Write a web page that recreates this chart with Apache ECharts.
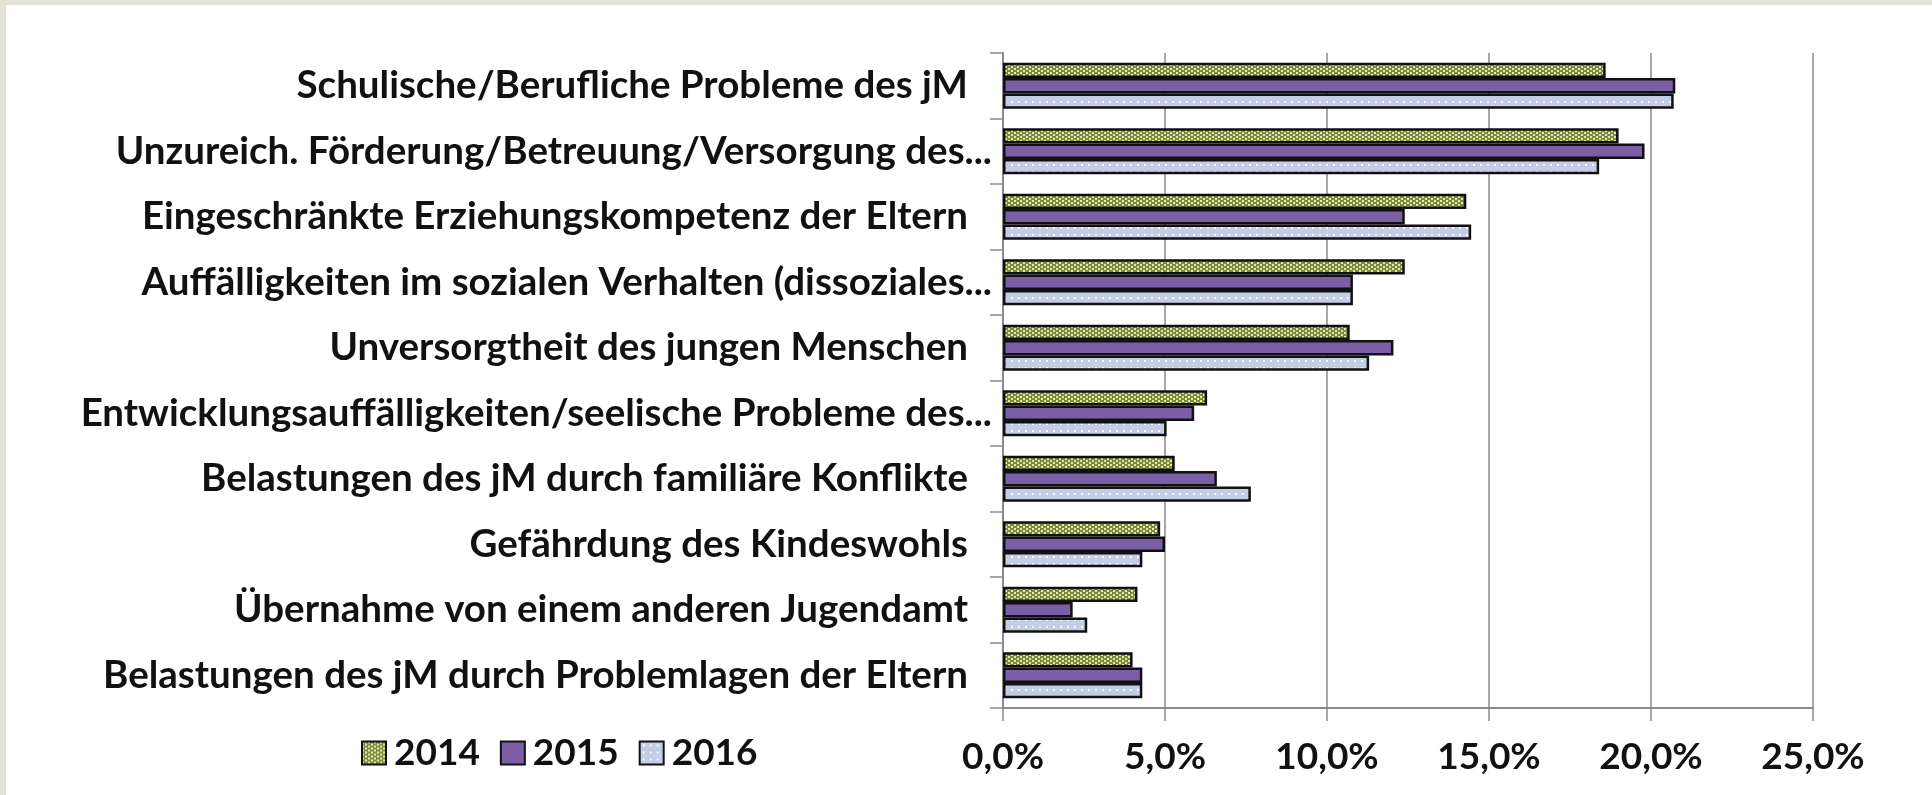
<!DOCTYPE html>
<html>
<head>
<meta charset="utf-8">
<script src="https://cdn.jsdelivr.net/npm/echarts@6/dist/echarts.min.js"></script>
<style>
  html, body { margin: 0; padding: 0; background: #ffffff; }
  #chart { position: absolute; left: 0; top: 0; width: 1932px; height: 795px; }
  .frameL { position: absolute; left: 0; top: 0; width: 6px; height: 795px; background: #e4e1d7; }
  .frameT { position: absolute; left: 0; top: 0; width: 1932px; height: 5px; background: #e4e1d7; }
</style>
</head>
<body>
<div id="chart"></div>
<div class="frameL"></div>
<div class="frameT"></div>
<script>
const categories = [
  "Schulische/Berufliche Probleme des jM",
  "Unzureich. Förderung/Betreuung/Versorgung des...",
  "Eingeschränkte Erziehungskompetenz der Eltern",
  "Auffälligkeiten im sozialen Verhalten (dissoziales...",
  "Unversorgtheit des jungen Menschen",
  "Entwicklungsauffälligkeiten/seelische Probleme des...",
  "Belastungen des jM durch familiäre Konflikte",
  "Gefährdung des Kindeswohls",
  "Übernahme von einem anderen Jugendamt",
  "Belastungen des jM durch Problemlagen der Eltern"
];
const seriesNames = ["2014", "2015", "2016"];
const values2014 = [18.6, 19.0, 14.3, 12.4, 10.7, 6.3, 5.3, 4.85, 4.15, 4.0];
const values2015 = [20.75, 19.8, 12.4, 10.8, 12.05, 5.9, 6.6, 5.0, 2.15, 4.3];
const values2016 = [20.7, 18.4, 14.45, 10.8, 11.3, 5.05, 7.65, 4.3, 2.6, 4.3];
const tickLabels = ["0,0%", "5,0%", "10,0%", "15,0%", "20,0%", "25,0%"];

function makePattern(w, h, base, dot, dots) {
  const c = document.createElement('canvas');
  c.width = w; c.height = h;
  const ctx = c.getContext('2d');
  ctx.fillStyle = base; ctx.fillRect(0, 0, w, h);
  ctx.fillStyle = dot;
  dots.forEach(d => ctx.fillRect(d[0], d[1], d[2], d[3]));
  return { image: c, repeat: 'repeat' };
}

const fill2014 = makePattern(6, 4, '#7d8b35', '#e4e7bd', [[0, 0, 2, 2], [3, 2, 2, 2]]);
const fill2015 = '#7a5ea6';
const fill2016 = makePattern(7, 7, '#c3cee6', '#f6f8fd', [[3, 3, 2, 2]]);

const FONT = "Lato, 'Open Sans', sans-serif";
const chart = echarts.init(document.getElementById('chart'), null, { renderer: 'canvas' });

function barSeries(name, data, fill) {
  return {
    name: name,
    type: 'bar',
    data: data,
    barGap: '0%',
    barCategoryGap: '30%',
    itemStyle: { color: fill, borderColor: '#111111', borderWidth: 2.5 },
    emphasis: { disabled: true }
  };
}

chart.setOption({
  animation: false,
  backgroundColor: '#ffffff',
  grid: { left: 1003, right: 119, top: 53, bottom: 87, containLabel: false },
  legend: {
    left: 356, top: 728,
    itemWidth: 24, itemHeight: 23, itemGap: 20,
    icon: 'rect',
    data: seriesNames,
    textStyle: { fontFamily: FONT, fontWeight: 'bold', fontSize: 37, color: '#111', lineHeight: 40, padding: [0, 0, 0, 3] }
  },
  xAxis: {
    type: 'value',
    min: 0, max: 25, interval: 5,
    axisLine: { show: true, lineStyle: { color: '#8a8a8a', width: 2 } },
    axisTick: { show: true, length: 13, lineStyle: { color: '#8a8a8a', width: 1.5 } },
    splitLine: { show: true, lineStyle: { color: '#8a8a8a', width: 1.5 } },
    axisLabel: {
      margin: 31,
      fontFamily: FONT, fontWeight: 'bold', fontSize: 37, color: '#111',
      formatter: function (v) { return tickLabels[Math.round(v / 5)]; }
    }
  },
  yAxis: {
    type: 'category',
    inverse: true,
    data: categories,
    axisLine: { show: true, lineStyle: { color: '#8a8a8a', width: 2 } },
    axisTick: { show: true, length: 13, lineStyle: { color: '#8a8a8a', width: 1.5 } },
    splitLine: { show: false },
    axisLabel: {
      margin: 11,
      formatter: function (v) {
        return /\.\.\.$/.test(v) ? '{t|' + v + '}' : '{t|' + v + '}{sp|}';
      },
      rich: {
        t: { fontFamily: FONT, fontWeight: 'bold', fontSize: 38.5, color: '#111' },
        sp: { width: 24 }
      }
    }
  },
  series: [
    barSeries(seriesNames[0], values2014, fill2014),
    barSeries(seriesNames[1], values2015, fill2015),
    barSeries(seriesNames[2], values2016, fill2016)
  ]
});
</script>
</body>
</html>
